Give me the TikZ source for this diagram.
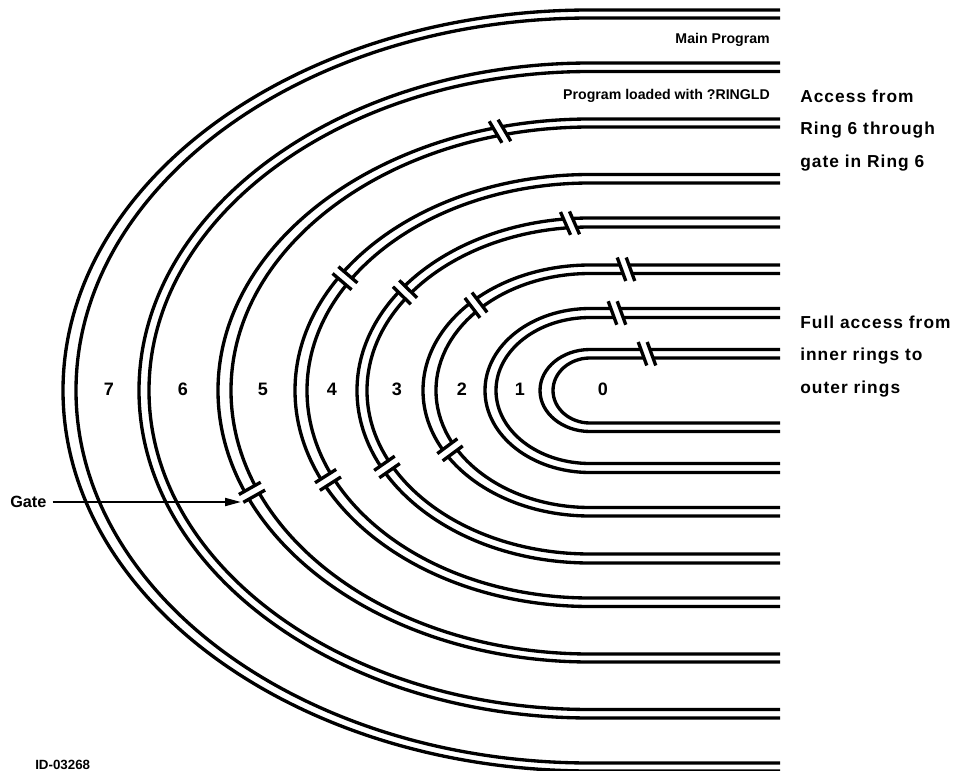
\documentclass[tikz,border=0pt]{standalone}
\usepackage{fontspec}
\setmainfont{Liberation Sans}
\newfontfamily\sidefont[LetterSpace=6]{Liberation Sans}
\usetikzlibrary{arrows.meta,calc}
\begin{document}
\begin{tikzpicture}[x=0.75pt,y=-0.75pt,
  ringline/.style={line width=2.5pt},
  gatebar/.style={line width=2.5pt},
  gapfill/.style={fill=white},
  lbl/.style={font=\bfseries\fontsize{10.6}{13}\selectfont, inner sep=0pt},
  sidelbl/.style={font=\sidefont\bfseries\fontsize{13}{15}\selectfont, inner sep=0pt},
  gatelbl/.style={font=\bfseries\fontsize{12.2}{14}\selectfont, inner sep=0pt},
  ringnum/.style={font=\bfseries\fontsize{13.5}{15}\selectfont, inner sep=0pt},
  figid/.style={font=\bfseries\fontsize{10}{11}\selectfont, inner sep=0pt},
  pointer/.style={line width=1.5pt,-{Triangle[length=12pt,width=6pt]}}]
\useasboundingbox (0,0) rectangle (958,771);

% Eight ring boundaries: each one is a pair of half-ellipses
% (outer a/b, inner a/b) continued by straight runs to the right
\foreach \ao/\ai/\bo/\bi in {527/514/380.5/372.5, 451/441/327.5/319,
    372/359/271.5/263.5, 295/283/216/207.5, 233/223/172.5/163.5,
    167/154/125.5/117, 105/94/82/73, 50/37/41/32.5}{
  \draw[ringline] (780,{390.5-\bo}) -- (590,{390.5-\bo})
    arc[start angle=-90,end angle=-270,x radius=\ao,y radius=\bo] -- (780,{390.5+\bo});
  \draw[ringline] (780,{390.5-\bi}) -- (590,{390.5-\bi})
    arc[start angle=-90,end angle=-270,x radius=\ai,y radius=\bi] -- (780,{390.5+\bi});
}

% Gates: mean semi-axes, x position, side (-1 top, 1 bottom), bar tilt
\foreach \am/\bm/\gx/\s/\tilt in {365.5/267.5/500/-1/20, 228/168/570/-1/20,
    160.5/121.25/626/-1/20, 99.5/77.5/617/-1/20, 43.5/36.75/647/-1/20,
    289/211.75/345/-1/0, 228/168/405/-1/0, 160.5/121.25/476/-1/0,
    365.5/267.5/252/1/0, 289/211.75/328/1/0, 228/168/387/1/0, 160.5/121.25/450/1/0}{
  \pgfmathsetmacro\gc{min((\gx-590)/\am,0)}
  \pgfmathsetmacro\gt{\s*acos(\gc)}
  \pgfmathsetmacro\gpx{590+\am*cos(\gt)+max(\gx-590,0)}
  \pgfmathsetmacro\gpy{390.5+\bm*sin(\gt)}
  \pgfmathsetmacro\gph{atan2(\bm*cos(\gt),-\am*sin(\gt))}
  \pgfmathsetmacro\gdd{\gph+90-\tilt}
  \coordinate (c1) at ($(\gpx,\gpy)+(\gph:-4.5)$);
  \coordinate (c2) at ($(\gpx,\gpy)+(\gph:4.5)$);
  \fill[gapfill] ($(c1)+(\gdd:12.5)$) -- ($(c2)+(\gdd:12.5)$)
    -- ($(c2)+(\gdd:-12.5)$) -- ($(c1)+(\gdd:-12.5)$) -- cycle;
  \draw[gatebar] ($(c1)+(\gdd:12.5)$) -- ($(c1)+(\gdd:-12.5)$);
  \draw[gatebar] ($(c2)+(\gdd:12.5)$) -- ($(c2)+(\gdd:-12.5)$);
}

% Ring numbers
\node[ringnum] (n7) at (109,389) {7};
\node[ringnum] (n6) at (183,389) {6};
\node[ringnum] (n5) at (263,389) {5};
\node[ringnum] (n4) at (332,389) {4};
\node[ringnum] (n3) at (397,389) {3};
\node[ringnum] (n2) at (462,389) {2};
\node[ringnum] (n1) at (520,389) {1};
\node[ringnum] (n0) at (603,389) {0};

% Labels
\node[lbl,anchor=east] (mainprog) at (770,40) {Main Program};
\node[lbl,anchor=east] (ringld) at (770,96) {Program loaded with ?RINGLD};
\node[sidelbl,anchor=west] (acc1) at (800,96) {Access from};
\node[sidelbl,anchor=west] (acc2) at (800,130) {Ring 6 through};
\node[sidelbl,anchor=west] (acc3) at (800,163) {gate in Ring 6};
\node[sidelbl,anchor=west] (full1) at (800,322) {Full access from};
\node[sidelbl,anchor=west] (full2) at (800,356) {inner rings to};
\node[sidelbl,anchor=west] (full3) at (800,389) {outer rings};
\node[gatelbl,anchor=west] (gate) at (10,502) {Gate};
\coordinate (gatetip) at (241,502);
\draw[pointer] ([xshift=4.5pt]gate.east) -- (gatetip);
\node[figid,anchor=west] (fig) at (35,765) {ID-03268};
\end{tikzpicture}
\end{document}
